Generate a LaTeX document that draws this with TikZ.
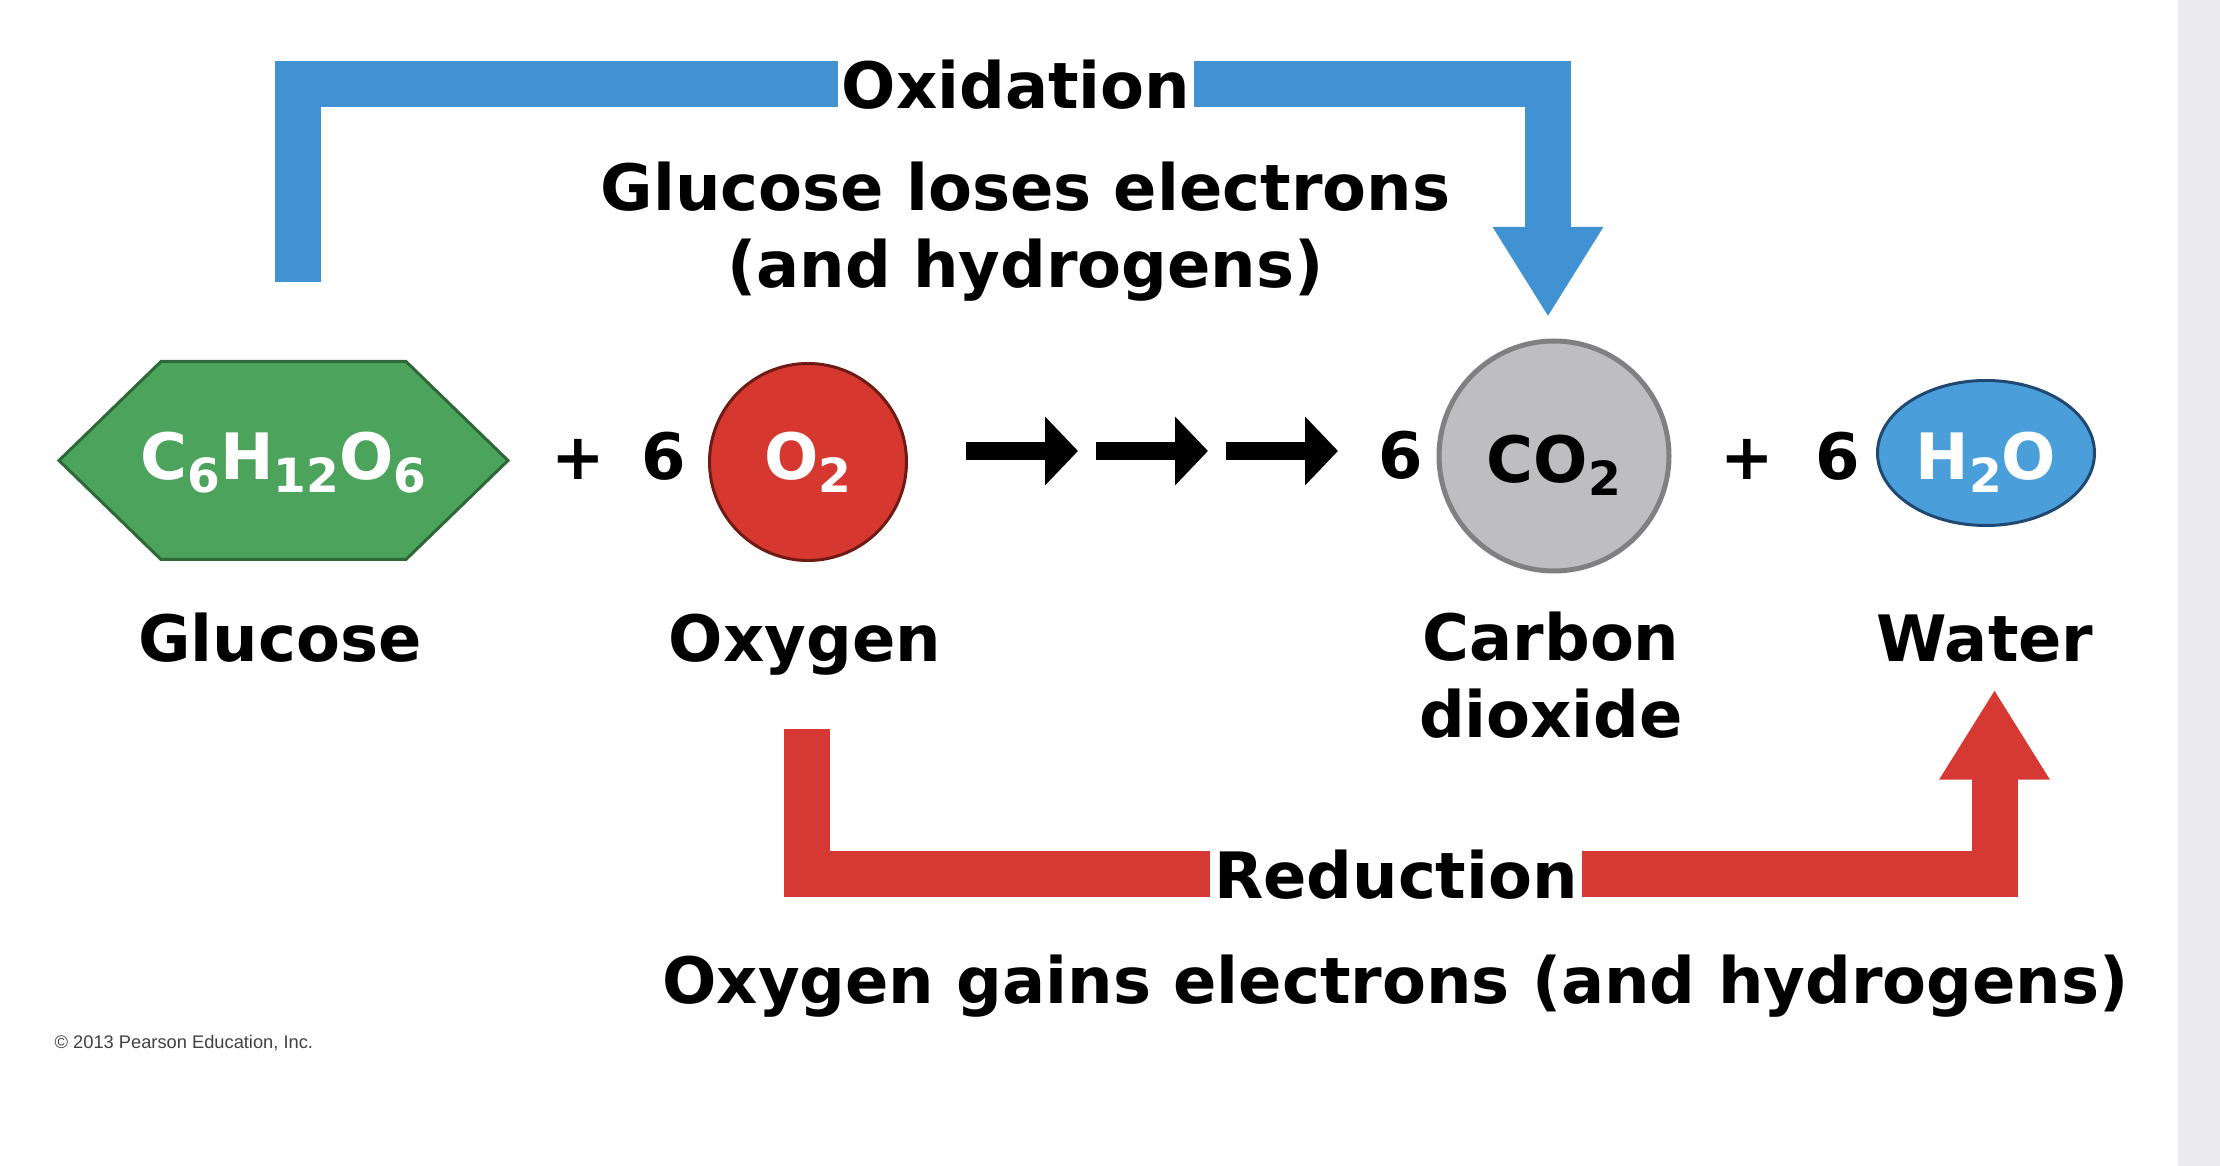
\documentclass[tikz,border=0pt]{standalone}
\usepackage{fontspec}
\setmainfont{DejaVu Sans}
\newfontfamily\creditfont{Liberation Sans}
\usetikzlibrary{shapes.geometric,arrows.meta,backgrounds}
\definecolor{oxblue}{RGB}{64,146,211}
\definecolor{redbar}{RGB}{214,57,51}
\definecolor{hexgreen}{RGB}{76,163,91}
\definecolor{hexedge}{RGB}{47,104,56}
\definecolor{o2red}{RGB}{214,56,48}
\definecolor{o2edge}{RGB}{112,26,21}
\definecolor{co2gray}{RGB}{190,190,192}
\definecolor{co2edge}{RGB}{128,128,130}
\definecolor{h2oblue}{RGB}{74,159,219}
\definecolor{h2oedge}{RGB}{32,72,112}
\definecolor{stripgray}{RGB}{236,236,238}
\definecolor{creditgray}{RGB}{64,64,64}
\newcommand{\chemsub}[1]{\raisebox{-1.3mm}{\fontsize{13.4}{14}\selectfont #1}}
\tikzset{lbl/.style={font=\bfseries\fontsize{18.2}{21.9}\selectfont,inner sep=0pt,align=center},
        formula/.style={lbl,text=white,outer sep=0pt},
        molecule/.style={formula,minimum size=0pt},
        cutlbl/.style={lbl,fill=white,inner xsep=0.4mm,inner ysep=0.5mm,
        text height=4.86mm,text depth=0pt},
        bigarrow/.style={line width=4.6mm,-{Triangle[length=9mm,width=10.4mm]}},
        oxarrow/.style={bigarrow,draw=oxblue,shorten >=2.4mm},
        redarrow/.style={bigarrow,draw=redbar,shorten >=2.65mm},
        steparrow/.style={line width=1.8mm,-{Triangle[length=3.3mm,width=6.7mm]}}}

\begin{document}
\begin{tikzpicture}[x=0.1mm,y=-0.1mm]
  \useasboundingbox (0,0) rectangle (2220,1166);
  \fill[stripgray] (2178,0) rectangle (2220,1166);
  % molecules
  \node[formula,minimum width=44.9mm,minimum height=19.8mm,
        text height=5.2mm,text depth=1.3mm] (glucose) at (283.5,460.5)
        {C\chemsub{6}H\chemsub{12}O\chemsub{6}};
  \node[molecule,circle,fill=o2red,draw=o2edge,line width=0.3mm,minimum size=19.7mm,
        text height=4.9mm,text depth=1.3mm] (o2) at (808,462) {O\chemsub{2}};
  \node[molecule,circle,fill=co2gray,draw=co2edge,line width=0.5mm,minimum size=23mm,
        text=black,text height=6.7mm,text depth=1.3mm] (co2) at (1554,456) {CO\chemsub{2}};
  \node[molecule,ellipse,fill=h2oblue,draw=h2oedge,line width=0.3mm,
        minimum width=21.7mm,minimum height=14.5mm,
        text height=6.7mm,text depth=1.3mm] (h2o) at (1986,453) {H\chemsub{2}O};
  % coefficients
  \node[lbl,anchor=base] (plusa) at (578,480) {+};
  \node[lbl,anchor=base] (sixa) at (664,480) {6};
  \node[lbl,anchor=base] (sixb) at (1401,479) {6};
  \node[lbl,anchor=base] (plusb) at (1747,480) {+};
  \node[lbl,anchor=base] (sixc) at (1838,480) {6};
  \foreach \x in {966,1096,1226}
    \draw[steparrow] (\x,451) -- ++(112,0);
  % names
  \node[lbl,anchor=base] (glucoselbl) at (280,661.5) {Glucose};
  \node[lbl,anchor=base] (oxygenlbl) at (805,661.5) {Oxygen};
  \node[lbl,anchor=base] (co2lbl) at (1551,737.7) {Carbon\\dioxide};
  \node[lbl,anchor=base] (waterlbl) at (1985,661.5) {Water};
  % oxidation / reduction
  \node[cutlbl] (oxlbl) at (1016,84) {Oxidation};
  \node[lbl,anchor=base] (oxnote) at (1025.5,287.8) {Glucose loses electrons\\(and hydrogens)};
  \node[cutlbl] (redlbl) at (1396,874.5) {Reduction};
  \node[lbl,anchor=base] (rednote) at (1395.5,1004) {Oxygen gains electrons (and hydrogens)};
  \coordinate (oxstart) at (297.5,282);
  \coordinate (redstart) at (807,729);
  \node[anchor=base west,inner sep=0pt,text=creditgray,
        font=\creditfont\fontsize{5.2}{6}\selectfont] (credit) at (54,1049)
        {© 2013 Pearson Education, Inc.};
  \begin{pgfonlayer}{background}
    \draw[draw=hexedge,fill=hexgreen,line width=0.3mm]
      (glucose.west) -- ([xshift=10.2mm]glucose.north west)
      -- ([xshift=-10.2mm]glucose.north east) -- (glucose.east)
      -- ([xshift=-10.2mm]glucose.south east)
      -- ([xshift=10.2mm]glucose.south west) -- cycle;
    \draw[oxarrow] (oxstart) |- (oxlbl.center) -| ([xshift=-0.6mm]co2.north);
    \draw[redarrow] (redstart) |- (redlbl.center) -| ([xshift=0.95mm]waterlbl.south);
  \end{pgfonlayer}
\end{tikzpicture}
\end{document}
